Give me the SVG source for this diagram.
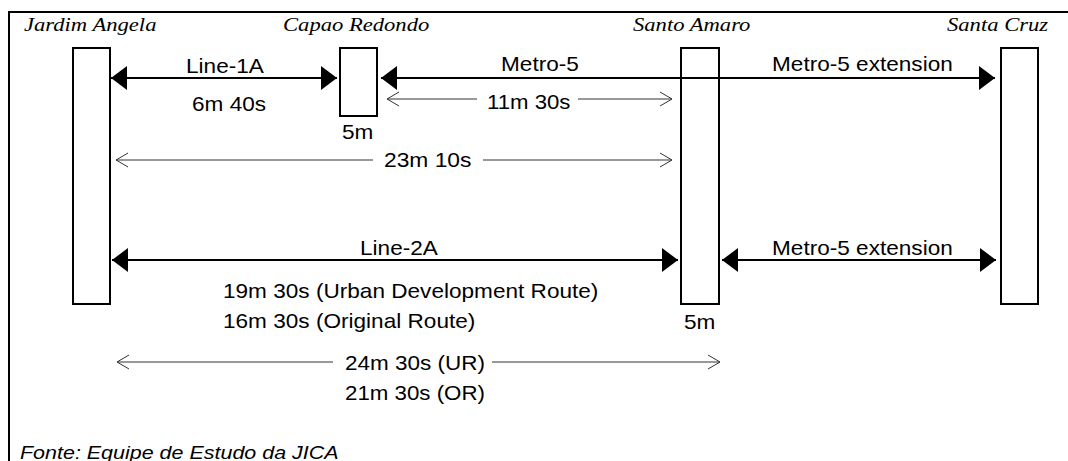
<svg xmlns="http://www.w3.org/2000/svg" width="1068" height="461" viewBox="0 0 1068 461">
  <style>
    .st { fill: #fff; stroke: #000; stroke-width: 2; }
    .ttl { font-family: "Liberation Serif", "Times New Roman", serif; font-style: italic; font-size: 19px; fill: #000; }
    .lbl { font-family: "Liberation Sans", Arial, sans-serif; font-size: 20px; fill: #000; }
    .src { font-family: "Liberation Sans", Arial, sans-serif; font-style: italic; font-size: 19px; fill: #000; }
    .thick { stroke: #000; stroke-width: 2; fill: none; marker-start: url(#solid); marker-end: url(#solid); }
    .thin { stroke: #333; stroke-width: 1; fill: none; }
  </style>
  <defs>
    <marker id="solid" markerUnits="userSpaceOnUse" viewBox="0 -12 16 24" refX="16" refY="0" markerWidth="16" markerHeight="24" orient="auto-start-reverse">
      <path d="M0,-12 L16,0 L0,12 Z" fill="#000"/>
    </marker>
    <marker id="open" markerUnits="userSpaceOnUse" viewBox="-13 -8 14 16" refX="0" refY="0" markerWidth="14" markerHeight="16" orient="auto-start-reverse">
      <path d="M-12,-7 L0,0 L-12,7" fill="none" stroke="#333" stroke-width="1"/>
    </marker>
  </defs>

  <rect width="1068" height="461" fill="#fff"/>
  <path d="M9,461 V12 H1068" fill="none" stroke="#000" stroke-width="2"/>

  <g id="jardim-angela">
    <rect class="st" x="73" y="48" width="37" height="256"/>
    <text class="ttl" transform="translate(24 31) scale(1.19 1)">Jardim Angela</text>
  </g>
  <g id="capao-redondo">
    <rect class="st" x="340" y="48" width="37" height="68"/>
    <text class="ttl" transform="translate(283 31) scale(1.19 1)">Capao Redondo</text>
    <text class="lbl" transform="translate(342 139) scale(1.13 1)">5m</text>
  </g>
  <g id="santo-amaro">
    <rect class="st" x="681" y="48" width="38" height="256"/>
    <text class="ttl" transform="translate(633 31) scale(1.19 1)">Santo Amaro</text>
    <text class="lbl" transform="translate(684 329) scale(1.13 1)">5m</text>
  </g>
  <g id="santa-cruz">
    <rect class="st" x="1001" y="48" width="37" height="256"/>
    <text class="ttl" transform="translate(947 31) scale(1.19 1)">Santa Cruz</text>
  </g>

  <g id="connectors">
    <line class="thick" x1="111" y1="78" x2="337" y2="78"/>
    <text class="lbl" transform="translate(186 72.5) scale(1.13 1)">Line-1A</text>
    <text class="lbl" transform="translate(192 111) scale(1.13 1)">6m 40s</text>

    <line class="thick" x1="381" y1="78" x2="995" y2="78"/>
    <text class="lbl" transform="translate(501 71) scale(1.13 1)">Metro-5</text>
    <text class="lbl" transform="translate(772 70.5) scale(1.13 1)">Metro-5 extension</text>

    <line class="thin" x1="387" y1="99" x2="477" y2="99" marker-start="url(#open)"/>
    <line class="thin" x1="578" y1="99" x2="672" y2="99" marker-end="url(#open)"/>
    <text class="lbl" transform="translate(487 109) scale(1.11 1)">11m 30s</text>

    <line class="thin" x1="116" y1="160" x2="373" y2="160" marker-start="url(#open)"/>
    <line class="thin" x1="483" y1="160" x2="672" y2="160" marker-end="url(#open)"/>
    <text class="lbl" transform="translate(384 166.5) scale(1.14 1)">23m 10s</text>

    <line class="thick" x1="112" y1="260" x2="678" y2="260"/>
    <text class="lbl" transform="translate(360 255) scale(1.13 1)">Line-2A</text>
    <text class="lbl" transform="translate(223 298) scale(1.13 1)">19m 30s (Urban Development Route)</text>
    <text class="lbl" transform="translate(223 328) scale(1.13 1)">16m 30s (Original Route)</text>

    <line class="thick" x1="722" y1="260" x2="996" y2="260"/>
    <text class="lbl" transform="translate(772 255) scale(1.13 1)">Metro-5 extension</text>

    <line class="thin" x1="117" y1="362" x2="333" y2="362" marker-start="url(#open)"/>
    <line class="thin" x1="492" y1="362" x2="720" y2="362" marker-end="url(#open)"/>
    <text class="lbl" transform="translate(345 370) scale(1.125 1)">24m 30s (UR)</text>
    <text class="lbl" transform="translate(345 400) scale(1.115 1)">21m 30s (OR)</text>
  </g>

  <text class="src" transform="translate(20 459) scale(1.13 1)">Fonte: Equipe de Estudo da JICA</text>
</svg>
